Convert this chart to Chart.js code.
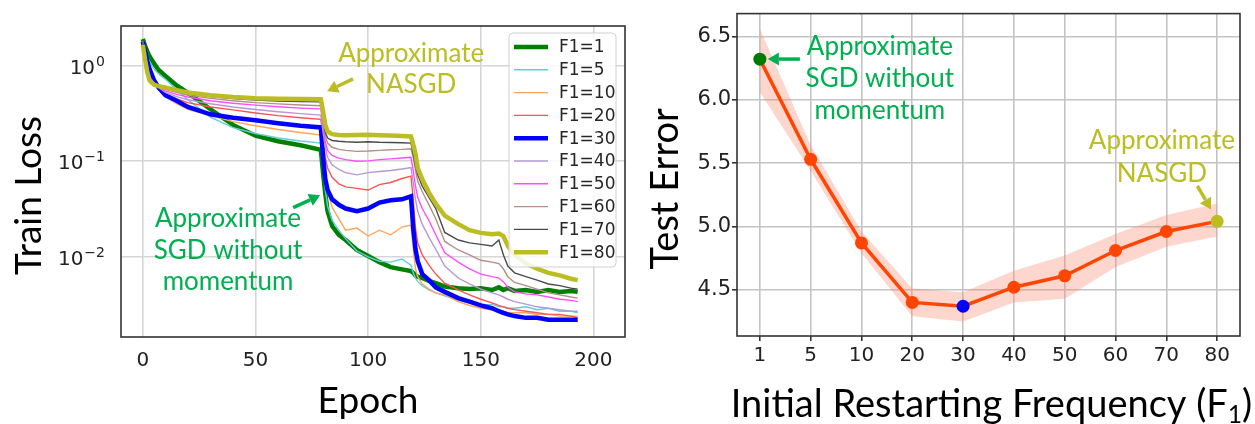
<!DOCTYPE html>
<html>
<head>
<meta charset="utf-8">
<script src="https://cdn.jsdelivr.net/npm/chart.js@4.4.1/dist/chart.umd.min.js"></script>
<style>
  html, body { margin: 0; padding: 0; background: #fff; }
  #wrap { position: relative; width: 1255px; height: 424px; }
  .box { position: absolute; top: 0; height: 424px; }
  #left { left: 0; width: 640px; }
  #right { left: 640px; width: 615px; }
</style>
</head>
<body>
<div id="wrap">
  <div class="box" id="left"><canvas id="lossChart"></canvas></div>
  <div class="box" id="right"><canvas id="errChart"></canvas></div>
</div>
<script>
// ---- left panel: train loss per epoch ----
const epochs = [0, 1, 2, 3, 5, 7, 10, 15, 20, 30, 40, 50, 60, 70, 79, 80, 81, 82, 84, 87, 90, 95, 100, 105, 110, 115, 119,
  120, 121, 122, 124, 127, 130, 134, 140, 145, 150, 155, 158, 160, 162, 165, 170, 175, 180, 185, 190, 193];

const loss1 = [1.90, 1.60, 1.40, 1.25, 1.05, 0.90, 0.78, 0.62, 0.52, 0.35, 0.24, 0.185, 0.162, 0.147, 0.132,
  0.075, 0.045, 0.030, 0.021, 0.017, 0.0150, 0.0118, 0.0102, 0.0088, 0.0078, 0.0074, 0.0071,
  0.0068, 0.0064, 0.0062, 0.0060, 0.0056, 0.0053, 0.0049, 0.0047, 0.0046, 0.0047, 0.0045, 0.0048, 0.0045, 0.0047,
  0.0044, 0.0045, 0.0043, 0.0045, 0.0043, 0.0044, 0.0043];
const loss5 = [1.80, 1.50, 1.25, 1.10, 0.92, 0.82, 0.72, 0.56, 0.44, 0.29, 0.225, 0.195, 0.175, 0.163, 0.155,
  0.085, 0.050, 0.034, 0.024, 0.019, 0.0155, 0.0115, 0.0100, 0.0090, 0.0088, 0.0095, 0.0082,
  0.0068, 0.0060, 0.0055, 0.0050, 0.0045, 0.0042, 0.0039, 0.0035, 0.0033, 0.0031, 0.0032, 0.0030, 0.0030, 0.0029,
  0.0029, 0.0030, 0.0028, 0.0029, 0.0027, 0.0027, 0.0026];
const loss10 = [1.75, 1.20, 0.95, 0.80, 0.66, 0.56, 0.47, 0.40, 0.35, 0.30, 0.26, 0.235, 0.215, 0.200, 0.188,
  0.120, 0.070, 0.050, 0.033, 0.025, 0.019, 0.0200, 0.0165, 0.0190, 0.0170, 0.0205, 0.0215,
  0.0120, 0.0075, 0.0062, 0.0052, 0.0046, 0.0042, 0.0040, 0.0034, 0.0031, 0.0029, 0.0028, 0.0027, 0.0027, 0.0026,
  0.0026, 0.0026, 0.0025, 0.0025, 0.0024, 0.0024, 0.0024];
const loss20 = [1.75, 1.15, 0.90, 0.78, 0.66, 0.57, 0.505, 0.45, 0.41, 0.37, 0.345, 0.320, 0.300, 0.285, 0.274,
  0.170, 0.110, 0.085, 0.068, 0.058, 0.054, 0.052, 0.050, 0.057, 0.060, 0.066, 0.070,
  0.040, 0.020, 0.014, 0.0105, 0.0082, 0.0066, 0.0053, 0.0045, 0.0040, 0.0036, 0.0033, 0.0031, 0.0030, 0.0029,
  0.0028, 0.0027, 0.0026, 0.0025, 0.0025, 0.0024, 0.0023];
const loss30 = [1.78, 1.40, 1.10, 0.92, 0.70, 0.59, 0.49, 0.43, 0.37, 0.31, 0.285, 0.268, 0.250, 0.235, 0.226,
  0.110, 0.065, 0.050, 0.040, 0.035, 0.032, 0.030, 0.032, 0.037, 0.039, 0.040, 0.043,
  0.020, 0.012, 0.0090, 0.0066, 0.0057, 0.0048, 0.0043, 0.0037, 0.0034, 0.0031, 0.0029, 0.0027, 0.0026, 0.0025,
  0.0024, 0.0023, 0.0023, 0.0022, 0.0022, 0.0022, 0.0022];
const loss40 = [1.75, 1.15, 0.88, 0.76, 0.66, 0.59, 0.525, 0.475, 0.44, 0.40, 0.370, 0.348, 0.330, 0.315, 0.304,
  0.200, 0.140, 0.110, 0.092, 0.082, 0.076, 0.072, 0.076, 0.078, 0.080, 0.083, 0.086,
  0.060, 0.040, 0.030, 0.022, 0.016, 0.012, 0.0080, 0.0060, 0.0052, 0.0046, 0.0042, 0.0040, 0.0038, 0.0036,
  0.0034, 0.0032, 0.0030, 0.0029, 0.0028, 0.0027, 0.0027];
const loss50 = [1.75, 1.10, 0.85, 0.74, 0.66, 0.60, 0.545, 0.50, 0.47, 0.43, 0.405, 0.387, 0.372, 0.360, 0.353,
  0.240, 0.160, 0.130, 0.115, 0.108, 0.104, 0.100, 0.101, 0.104, 0.106, 0.108, 0.110,
  0.080, 0.055, 0.042, 0.032, 0.024, 0.017, 0.0110, 0.0088, 0.0075, 0.0066, 0.0062, 0.0060, 0.0055, 0.0048,
  0.0043, 0.0041, 0.0040, 0.0038, 0.0036, 0.0035, 0.0034];
const loss60 = [1.75, 1.10, 0.85, 0.74, 0.66, 0.61, 0.565, 0.525, 0.49, 0.455, 0.430, 0.411, 0.398, 0.388, 0.381,
  0.270, 0.180, 0.155, 0.140, 0.133, 0.130, 0.127, 0.128, 0.130, 0.132, 0.133, 0.135,
  0.110, 0.080, 0.062, 0.048, 0.035, 0.025, 0.0145, 0.0118, 0.0105, 0.0092, 0.0088, 0.0085, 0.0075, 0.0062,
  0.0054, 0.0050, 0.0046, 0.0042, 0.0040, 0.0038, 0.0037];
const loss70 = [1.75, 1.10, 0.85, 0.72, 0.66, 0.62, 0.575, 0.54, 0.51, 0.475, 0.452, 0.437, 0.427, 0.421, 0.418,
  0.280, 0.200, 0.175, 0.165, 0.162, 0.160, 0.158, 0.160, 0.158, 0.157, 0.156, 0.155,
  0.120, 0.090, 0.072, 0.055, 0.042, 0.032, 0.0180, 0.0150, 0.0140, 0.0135, 0.0130, 0.0150, 0.0105, 0.0080,
  0.0068, 0.0062, 0.0057, 0.0052, 0.0050, 0.0047, 0.0046];
const loss80 = [1.65, 1.15, 0.85, 0.70, 0.63, 0.61, 0.59, 0.555, 0.525, 0.49, 0.470, 0.457, 0.452, 0.448, 0.445,
  0.330, 0.240, 0.205, 0.192, 0.188, 0.187, 0.188, 0.189, 0.187, 0.186, 0.184, 0.182,
  0.150, 0.120, 0.085, 0.065, 0.047, 0.036, 0.0270, 0.0220, 0.0190, 0.0178, 0.0172, 0.0175, 0.0165, 0.0130,
  0.0105, 0.0085, 0.0075, 0.0068, 0.0064, 0.0059, 0.0057];

const epochTicks = [0, 50, 100, 150, 200];
const lossTicks = [0.01, 0.1, 1];

// ---- right panel: test error per initial restarting frequency ----
const freqLabels = ['1', '5', '10', '20', '30', '40', '50', '60', '70', '80'];
const testError = [6.32, 5.53, 4.87, 4.40, 4.37, 4.52, 4.61, 4.81, 4.96, 5.04];
const errUpper = [6.56, 5.64, 4.96, 4.51, 4.48, 4.65, 4.77, 4.94, 5.09, 5.18];
const errLower = [6.06, 5.44, 4.79, 4.29, 4.25, 4.40, 4.43, 4.68, 4.84, 4.92];
const errTicks = [4.5, 5.0, 5.5, 6.0, 6.5];

const lossStyles = [
  ['F1=1', loss1, '#008000', 4.5],
  ['F1=5', loss5, '#5fcfdb', 1.4],
  ['F1=10', loss10, '#ffa559', 1.4],
  ['F1=20', loss20, '#ff5353', 1.4],
  ['F1=30', loss30, '#0000ff', 4.5],
  ['F1=40', loss40, '#b598d5', 1.4],
  ['F1=50', loss50, '#ff4dff', 1.4],
  ['F1=60', loss60, '#b38f87', 1.4],
  ['F1=70', loss70, '#4a4a4a', 1.4],
  ['F1=80', loss80, '#bcbd22', 4.5]
];

const TITLE_FONT = 'Lato, "Open Sans", sans-serif';
const TICK_FONT = { family: '"DejaVu Sans"', size: 20 };
const GREEN = '#00b050';
const OLIVE = '#bcbd22';

// frame around the plot area
const frame = {
  id: 'frame',
  afterDatasetsDraw(chart) {
    const { ctx, chartArea: a } = chart;
    ctx.save();
    ctx.strokeStyle = '#333';
    ctx.lineWidth = 1.6;
    ctx.strokeRect(a.left, a.top, a.right - a.left, a.bottom - a.top);
    ctx.restore();
  }
};

// text notes and arrows, placed in data coordinates
const notes = {
  id: 'notes',
  afterDatasetsDraw(chart, args, o) {
    const { ctx, scales } = chart;
    const px = v => scales.x.getPixelForValue(v);
    const py = v => scales.y.getPixelForValue(v);
    ctx.save();
    (o.texts || []).forEach(t => {
      ctx.font = t.size + 'px ' + TITLE_FONT;
      ctx.fillStyle = t.color;
      ctx.textAlign = 'center';
      ctx.textBaseline = 'alphabetic';
      t.lines.forEach((line, i) => ctx.fillText(line, px(t.x), py(t.ys[i])));
    });
    (o.arrows || []).forEach(ar => {
      const x0 = px(ar.from[0]), y0 = py(ar.from[1]);
      const x1 = px(ar.to[0]), y1 = py(ar.to[1]);
      const ang = Math.atan2(y1 - y0, x1 - x0);
      const hl = 11, hw = 6.5;
      const bx = x1 - hl * Math.cos(ang), by = y1 - hl * Math.sin(ang);
      ctx.strokeStyle = ar.color;
      ctx.fillStyle = ar.color;
      ctx.lineWidth = 3.5;
      ctx.beginPath(); ctx.moveTo(x0, y0); ctx.lineTo(bx, by); ctx.stroke();
      ctx.beginPath();
      ctx.moveTo(x1, y1);
      ctx.lineTo(bx + hw * Math.sin(ang), by - hw * Math.cos(ang));
      ctx.lineTo(bx - hw * Math.sin(ang), by + hw * Math.cos(ang));
      ctx.closePath(); ctx.fill();
    });
    ctx.restore();
  }
};

// legend drawn inside the upper right corner
const insideLegend = {
  id: 'insideLegend',
  afterDraw(chart, args, o) {
    if (!o.show) return;
    const { ctx, chartArea: a } = chart;
    const w = 107, h = 234, x = a.right - 9 - w, y = a.top + 7;
    ctx.save();
    ctx.beginPath();
    ctx.roundRect(x, y, w, h, 4);
    ctx.fillStyle = 'rgba(255,255,255,0.85)';
    ctx.fill();
    ctx.strokeStyle = '#d0d0d0';
    ctx.lineWidth = 1;
    ctx.stroke();
    ctx.font = '17px "DejaVu Sans"';
    ctx.textBaseline = 'middle';
    chart.data.datasets.forEach((ds, i) => {
      const cy = y + 14 + i * 22.8;
      ctx.beginPath();
      ctx.moveTo(x + 5, cy); ctx.lineTo(x + 39, cy);
      ctx.strokeStyle = ds.borderColor;
      ctx.lineWidth = ds.borderWidth;
      ctx.stroke();
      ctx.fillStyle = '#262626';
      ctx.fillText(ds.label, x + 50, cy + 1);
    });
    ctx.restore();
  }
};

// 10^n labels on the log axis, with a raised exponent
const logTickLabels = {
  id: 'logTickLabels',
  afterDraw(chart) {
    const { ctx, chartArea: a } = chart;
    const y = chart.scales.y;
    ctx.save();
    ctx.fillStyle = '#222';
    ctx.textAlign = 'left';
    ctx.textBaseline = 'alphabetic';
    y.ticks.forEach(t => {
      const exp = String(Math.round(Math.log10(t.value))).replace('-', '\u2212');
      ctx.font = '14px "DejaVu Sans"';
      const ew = ctx.measureText(exp).width;
      ctx.font = '20px "DejaVu Sans"';
      const bw = ctx.measureText('10').width;
      const right = a.left - 16;
      const yy = y.getPixelForValue(t.value);
      ctx.fillText('10', right - ew - bw - 1, yy + 8);
      ctx.font = '14px "DejaVu Sans"';
      ctx.fillText(exp, right - ew, yy);
    });
    ctx.restore();
  }
};

// axis titles, x title may carry a subscript part
const axisTitles = {
  id: 'axisTitles',
  afterDraw(chart, args, o) {
    const { ctx, chartArea: a } = chart;
    ctx.save();
    ctx.fillStyle = '#000';
    ctx.textBaseline = 'alphabetic';
    ctx.textAlign = 'left';
    const parts = o.xParts.map(p => {
      const size = o.size * (p.scale || 1);
      ctx.font = size + 'px ' + TITLE_FONT;
      return { text: p.text, size, dy: p.dy || 0, w: ctx.measureText(p.text).width };
    });
    const total = parts.reduce((s, p) => s + p.w, 0);
    let cx = (a.left + a.right) / 2 + o.xShift - total / 2;
    const base = a.bottom + o.xBase;
    parts.forEach(p => {
      ctx.font = p.size + 'px ' + TITLE_FONT;
      ctx.fillText(p.text, cx, base + p.dy);
      cx += p.w;
    });
    ctx.font = o.size + 'px ' + TITLE_FONT;
    ctx.textAlign = 'center';
    ctx.translate(o.yBase, (a.top + a.bottom) / 2 + o.yShift);
    ctx.rotate(-Math.PI / 2);
    ctx.fillText(o.yText, 0, 0);
    ctx.restore();
  }
};

new Chart(document.getElementById('lossChart'), {
  type: 'line',
  data: {
    datasets: lossStyles.map(([label, vals, color, width], i) => ({
      label,
      data: epochs.map((e, k) => ({ x: e, y: vals[k] })),
      borderColor: color,
      borderWidth: width,
      pointRadius: 0,
      tension: 0,
      order: lossStyles.length - i
    }))
  },
  options: {
    responsive: true,
    maintainAspectRatio: false,
    animation: false,
    layout: { padding: { top: 8, right: 15, left: 0, bottom: 0 } },
    plugins: {
      legend: { display: false },
      tooltip: { enabled: false },
      insideLegend: { show: true },
      notes: {
        texts: [
          { lines: ['Approximate', 'SGD without', 'momentum'], x: 37.8, ys: [0.0203, 0.00955, 0.0045], color: GREEN, size: 26 },
          { lines: ['Approximate', 'NASGD'], x: 119.1, ys: [1.095, 0.513], color: OLIVE, size: 26 }
        ],
        arrows: [
          { from: [66.7, 0.0327], to: [78.7, 0.044], color: GREEN },
          { from: [93.3, 0.727], to: [81.8, 0.54], color: OLIVE }
        ]
      },
      axisTitles: {
        size: 37, xParts: [{ text: 'Epoch' }], xShift: -5, xBase: 76,
        yText: 'Train Loss', yBase: 41, yShift: 14
      }
    },
    scales: {
      x: {
        type: 'linear', min: -9.7, max: 214,
        afterBuildTicks: s => { s.ticks = epochTicks.map(v => ({ value: v })); },
        afterFit: s => { s.height = 87; },
        grid: { color: '#d6d6d6', lineWidth: 1.6, drawTicks: false },
        border: { display: false },
        ticks: { padding: 12, font: TICK_FONT, color: '#222', maxRotation: 0 }
      },
      y: {
        type: 'logarithmic', min: 0.00145, max: 2.6,
        afterBuildTicks: s => { s.ticks = lossTicks.map(v => ({ value: v })); },
        afterFit: s => { s.width = 121; },
        grid: { color: '#d6d6d6', lineWidth: 1.6, drawTicks: false },
        border: { display: false },
        ticks: { padding: 14, font: TICK_FONT, color: '#222', callback: () => '' }
      }
    }
  },
  plugins: [frame, notes, insideLegend, logTickLabels, axisTitles]
});

const markerColor = ctx => {
  const i = ctx.dataIndex;
  if (i === 0) return '#007a00';
  if (i === 4) return '#0000ff';
  if (i === freqLabels.length - 1) return OLIVE;
  return '#ff4500';
};

new Chart(document.getElementById('errChart'), {
  type: 'line',
  data: {
    datasets: [
      {
        data: testError.map((v, i) => ({ x: i, y: v })),
        borderColor: '#ff4500', borderWidth: 3.5,
        pointRadius: 6.5, pointBorderWidth: 0,
        pointBackgroundColor: markerColor,
        tension: 0, order: 0
      },
      {
        data: errUpper.map((v, i) => ({ x: i, y: v })),
        borderWidth: 0, pointRadius: 0, tension: 0,
        fill: '+1', backgroundColor: 'rgba(250,128,100,0.32)', order: 1
      },
      {
        data: errLower.map((v, i) => ({ x: i, y: v })),
        borderWidth: 0, pointRadius: 0, tension: 0, fill: false, order: 2
      }
    ]
  },
  options: {
    responsive: true,
    maintainAspectRatio: false,
    animation: false,
    layout: { padding: { top: 8, right: 15, left: 0, bottom: 0 } },
    plugins: {
      legend: { display: false },
      tooltip: { enabled: false },
      notes: {
        texts: [
          { lines: ['Approximate', 'SGD without', 'momentum'], x: 2.362, ys: [6.355, 6.104, 5.850], color: GREEN, size: 26 },
          { lines: ['Approximate', 'NASGD'], x: 7.913, ys: [5.615, 5.351], color: OLIVE, size: 26 }
        ],
        arrows: [
          { from: [0.788, 6.321], to: [0.158, 6.321], color: GREEN },
          { from: [8.61, 5.32], to: [8.88, 5.134], color: OLIVE }
        ]
      },
      axisTitles: {
        size: 38,
        xParts: [{ text: 'Initial Restarting Frequency (F' }, { text: '1', scale: 0.65, dy: 6 }, { text: ')' }],
        xShift: 3, xBase: 81,
        yText: 'Test Error', yBase: 38, yShift: 14
      }
    },
    scales: {
      x: {
        type: 'linear', min: -0.45, max: 9.45,
        afterBuildTicks: s => { s.ticks = freqLabels.map((l, i) => ({ value: i })); },
        afterFit: s => { s.height = 88; },
        grid: { color: '#c4c4c4', lineWidth: 1.6, tickColor: '#333', tickLength: 5 },
        border: { display: false },
        ticks: { padding: 3, font: TICK_FONT, color: '#222', maxRotation: 0, callback: v => freqLabels[v] }
      },
      y: {
        min: 4.135, max: 6.68,
        afterBuildTicks: s => { s.ticks = errTicks.map(v => ({ value: v })); },
        afterFit: s => { s.width = 97; },
        grid: { color: '#c4c4c4', lineWidth: 1.6, tickColor: '#333', tickLength: 5 },
        border: { display: false },
        ticks: { padding: 1, font: { family: '"DejaVu Sans"', size: 21 }, color: '#222', callback: v => v.toFixed(1) }
      }
    }
  },
  plugins: [frame, notes, axisTitles]
});
</script>
</body>
</html>
